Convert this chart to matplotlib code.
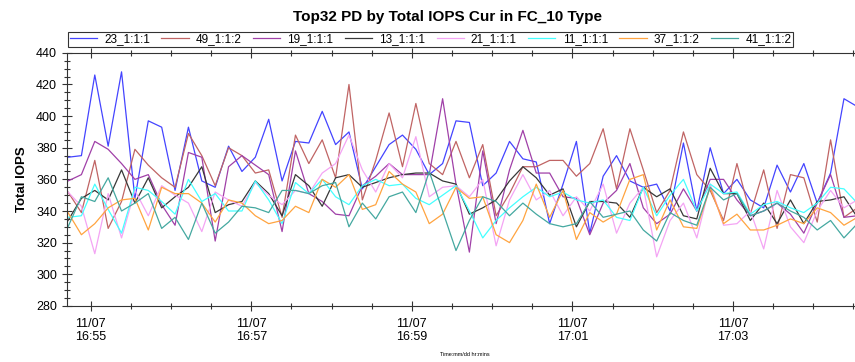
import numpy as np
import pandas as pd
import matplotlib
matplotlib.use("Agg")
import matplotlib.pyplot as plt
import matplotlib.dates as mdates

plt.rcParams['font.family'] = ['Liberation Sans', 'DejaVu Sans']

# sample times: every 10 s
times = pd.date_range("2019-11-07 16:54:43", periods=60, freq="10s")

names = ["23_1:1:1", "49_1:1:2", "19_1:1:1", "13_1:1:1",
         "21_1:1:1", "11_1:1:1", "37_1:1:2", "41_1:1:2"]
colors = ["#4444ff", "#c06464", "#a040a8", "#383838",
          "#f4a4f4", "#44ffff", "#ffa440", "#44a8a0"]

s23 = [374, 375, 426, 381, 428, 348, 397, 393, 353, 393, 359, 355, 381, 365, 374,
       398, 359, 384, 383, 403, 382, 390, 354, 368, 382, 388, 379, 363, 370, 397,
       396, 356, 364, 384, 373, 371, 332, 357, 384, 326, 362, 375, 359, 355, 357,
       340, 383, 340, 380, 351, 360, 347, 342, 369, 352, 370, 345, 364, 411, 406]
s49 = [352, 339, 372, 329, 346, 379, 369, 361, 355, 389, 375, 356, 380, 375, 364,
       366, 336, 388, 370, 385, 361, 420, 347, 372, 402, 368, 408, 370, 363, 384,
       361, 382, 337, 351, 368, 368, 372, 372, 362, 370, 392, 354, 392, 366, 339,
       353, 390, 363, 353, 334, 370, 338, 366, 329, 363, 361, 333, 385, 336, 342]
s19 = [359, 363, 384, 379, 370, 360, 363, 344, 331, 377, 374, 321, 368, 375, 369,
       363, 327, 378, 351, 346, 338, 337, 356, 362, 370, 363, 363, 363, 411, 357,
       314, 378, 332, 366, 391, 364, 364, 349, 348, 325, 345, 353, 370, 342, 332,
       338, 354, 340, 360, 360, 347, 337, 340, 345, 338, 326, 345, 363, 336, 337]
s13 = [334, 348, 353, 347, 366, 345, 361, 342, 349, 355, 368, 339, 344, 346, 359,
       351, 337, 363, 356, 343, 361, 363, 355, 358, 361, 363, 364, 364, 359, 357,
       338, 342, 347, 359, 368, 361, 350, 354, 330, 346, 346, 345, 336, 355, 349,
       354, 337, 335, 367, 351, 351, 334, 345, 332, 347, 332, 346, 347, 349, 336]
s21 = [352, 343, 313, 351, 323, 353, 337, 356, 350, 345, 327, 352, 347, 343, 358,
       350, 344, 353, 351, 364, 370, 388, 366, 352, 370, 361, 387, 349, 355, 356,
       349, 360, 318, 347, 363, 347, 353, 337, 349, 340, 357, 326, 345, 355, 311,
       334, 345, 323, 357, 331, 332, 340, 316, 353, 330, 320, 340, 353, 342, 347]
s11 = [336, 337, 357, 341, 326, 355, 353, 346, 338, 360, 346, 351, 340, 340, 359,
       347, 332, 358, 351, 360, 349, 344, 356, 360, 356, 357, 348, 344, 350, 356,
       340, 323, 334, 342, 349, 355, 349, 352, 347, 345, 347, 336, 334, 355, 337,
       350, 360, 340, 357, 351, 352, 338, 344, 346, 342, 339, 345, 355, 354, 345]
s37 = [339, 325, 332, 342, 347, 348, 328, 355, 351, 351, 345, 333, 347, 345, 337,
       332, 334, 343, 339, 360, 355, 363, 341, 344, 365, 357, 352, 332, 338, 355,
       348, 349, 325, 320, 334, 357, 336, 353, 322, 339, 333, 338, 360, 363, 328,
       347, 330, 329, 355, 332, 338, 328, 328, 331, 335, 332, 342, 339, 331, 336]
s41 = [330, 349, 346, 361, 340, 345, 351, 329, 336, 322, 345, 326, 333, 343, 342,
       339, 353, 353, 351, 356, 358, 330, 345, 335, 349, 352, 339, 365, 340, 315,
       334, 349, 346, 337, 345, 338, 332, 330, 332, 346, 336, 338, 340, 328, 321,
       339, 334, 331, 355, 347, 351, 337, 340, 345, 340, 336, 328, 334, 323, 332]
series = [s23, s49, s19, s13, s21, s11, s37, s41]

fig = plt.figure(figsize=(8.55, 3.62), dpi=100)
ax = fig.add_axes([0.078, 0.155, 0.931, 0.699])

for name, col, vals in zip(names, colors, series):
    ax.plot(times, vals, color=col, lw=0.9, label=name)

ax.set_ylim(280, 440)
ax.set_xlim(pd.Timestamp("2019-11-07 16:54:42"), pd.Timestamp("2019-11-07 17:04:37"))
ax.set_yticks(np.arange(280, 441, 20))
ax.yaxis.set_minor_locator(matplotlib.ticker.MultipleLocator(5))
ax.xaxis.set_major_locator(mdates.MinuteLocator(byminute=[1, 3, 5, 7, 9, 55, 57, 59]))
ax.xaxis.set_minor_locator(mdates.SecondLocator(bysecond=[0, 30]))
ax.xaxis.set_major_formatter(mdates.DateFormatter("%m/%d\n%H:%M"))

ax.tick_params(which='major', direction='inout', length=7, width=0.8, labelsize=9,
               top=True, colors='#333333', labelcolor='black')
ax.tick_params(which='minor', direction='inout', length=5, width=0.8, top=True,
               colors='#333333')
ax.tick_params(axis='x', pad=5)
for sp in ax.spines.values():
    sp.set_color('#333333')
    sp.set_linewidth(0.8)

ax.set_ylabel("Total IOPS", fontsize=9.5, fontweight='bold', labelpad=6)
ax.set_xlabel("Time:mm/dd hr:mins", fontsize=4, labelpad=6)
fig.suptitle("Top32 PD by Total IOPS Cur in FC_10 Type", x=0.523, y=0.972,
             fontsize=11, fontweight='bold')

leg = fig.legend(loc='lower left', bbox_to_anchor=(0.0795, 0.870, 0.848, 0.043),
                 mode='expand', ncol=8, fontsize=8.5, handlelength=2.3,
                 handletextpad=0.6, borderpad=0.15, frameon=True, fancybox=False,
                 borderaxespad=0)
leg.get_frame().set_edgecolor('black')
leg.get_frame().set_linewidth(0.8)

fig.savefig("out.png", dpi=100)
